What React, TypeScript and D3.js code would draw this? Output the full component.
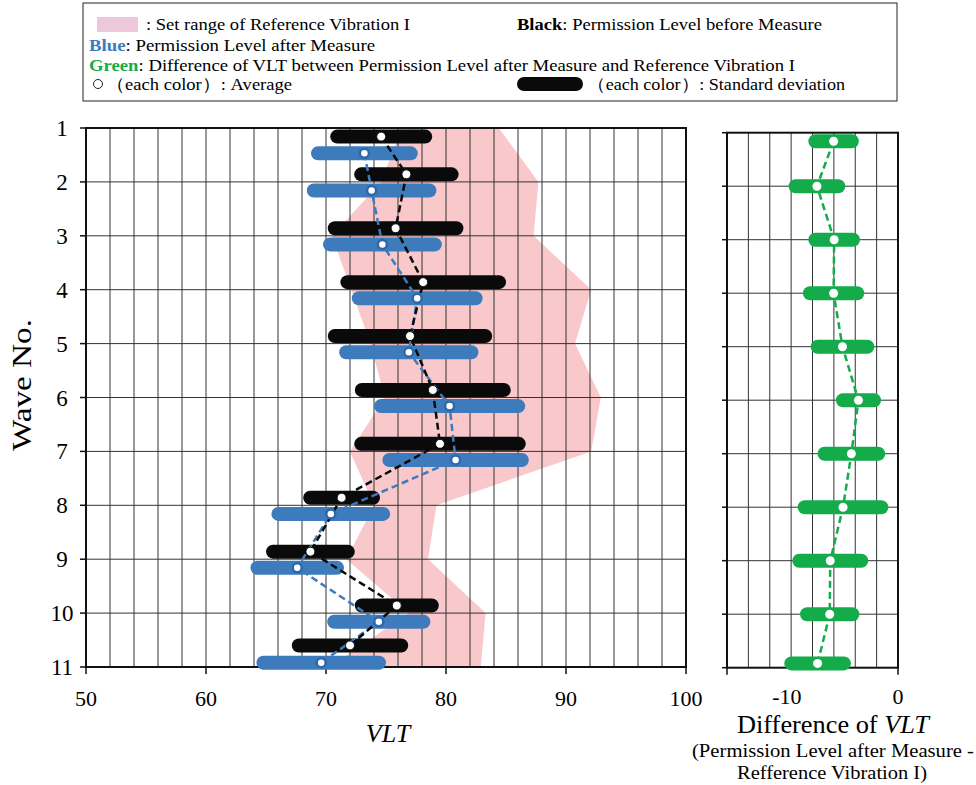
import React from "react";
import * as d3 from "d3";

// wave numbers and where each row sits on the wave axis
const waves = [1, 2, 3, 4, 5, 6, 7, 8, 9, 10, 11];
const blackRow = [1.16, 1.86, 2.86, 3.86, 4.86, 5.86, 6.86, 7.86, 8.86, 9.86, 10.6];
const blueRow = [1.47, 2.16, 3.16, 4.16, 5.16, 6.16, 7.16, 8.16, 9.16, 10.16, 10.92];
const greenRow = [1.16, 2, 3, 4, 5, 6, 7, 8, 9, 10, 10.92];

// permission level before measure (black)
const blackMean = [74.6, 76.7, 75.8, 78.1, 77.0, 78.9, 79.5, 71.3, 68.7, 75.9, 72.0];
const blackSd = [4.25, 4.35, 5.65, 6.9, 6.85, 6.5, 7.15, 3.2, 3.7, 3.5, 4.85];

// permission level after measure (blue)
const blueMean = [73.2, 73.8, 74.7, 77.6, 76.9, 80.3, 80.8, 70.4, 67.6, 74.4, 69.6];
const blueSd = [4.45, 5.4, 4.95, 5.45, 5.8, 6.3, 6.1, 4.95, 3.9, 4.3, 5.4];

// set range of reference vibration I (pink band)
const refLow = [76.3, 74.6, 70.5, 72.1, 73.7, 74.9, 72.0, 74.0, 71.7, 76.9, 70.3];
const refHigh = [84.4, 87.7, 87.3, 92.1, 90.75, 92.9, 92.1, 79.2, 78.5, 83.3, 82.9];

// difference after measure - reference (green)
const greenMean = [-5.8, -7.3, -5.75, -5.8, -5.0, -3.56, -4.2, -4.95, -6.1, -6.15, -7.24];
const greenSd = [2.27, 2.55, 2.33, 2.76, 2.87, 2.03, 3.05, 4.08, 3.42, 2.67, 3.0];

const vltTicks = [50, 60, 70, 80, 90, 100];
const diffTicks = [-10, 0];

const BLACK = "#0a0a0a";
const BLUE = "#3e7bbd";
const BLUE_DARK = "#2c69ab";
const GREEN = "#14ab4b";
const PINK = "#f8c8cb";
const GRID = "#333";
const FONT = "'Liberation Serif', 'Times New Roman', serif";

export default function App() {
  const W = 976, H = 785;

  const x = d3.scaleLinear().domain([50, 100]).range([86, 686]);
  const y = d3.scaleLinear().domain([1, 11]).range([128, 667]);
  const xr = d3.scaleLinear().domain([-15.4, 0]).range([727, 898]);
  const yr = d3.scaleLinear().domain([1, 11]).range([132.7, 667.7]);

  const band = d3.area<number>()
    .x0((d, i) => x(refLow[i]))
    .x1((d, i) => x(refHigh[i]))
    .y(d => y(d))(waves) || "";

  const lineL = (means: number[], rows: number[]) =>
    d3.line<number>().x(d => x(d)).y((d, i) => y(rows[i]))(means) || "";
  const greenLine = d3.line<number>().x(d => xr(d)).y((d, i) => yr(greenRow[i]))(greenMean) || "";

  const barH = 14;
  const bars = (means: number[], sds: number[], rows: number[], color: string, sx: any, sy: any) =>
    means.map((m, i) => (
      <rect key={i} x={sx(m - sds[i])} y={sy(rows[i]) - barH / 2}
        width={sx(m + sds[i]) - sx(m - sds[i])} height={barH} rx={barH / 2} fill={color} />
    ));

  const vGridL = d3.range(52, 100, 2);
  const hGrid = waves.slice(1, -1);
  const [r0, r1] = xr.domain();
  const vGridR = d3.range(1, 8).map(i => r0 + (i * (r1 - r0)) / 8);

  const lg = 16.5;

  return (
    <svg width={W} height={H} style={{ position: "absolute", left: 0, top: 0, background: "#fff" }}
      fontFamily={FONT}>
      {/* legend */}
      <g>
        <rect x={83} y={3} width={814} height={98} fill="#fff" stroke="#222" strokeWidth={1} />
        <rect x={97} y={17} width={41} height={15} fill="#edc8dc" />
        <text x={146} y={30} fontSize={lg} textLength={264} lengthAdjust="spacingAndGlyphs">: Set range of Reference Vibration I</text>
        <text x={517} y={30} fontSize={lg} textLength={305} lengthAdjust="spacingAndGlyphs"><tspan fontWeight="bold">Black</tspan>: Permission Level before Measure</text>
        <text x={89} y={51} fontSize={lg} textLength={286} lengthAdjust="spacingAndGlyphs"><tspan fontWeight="bold" fill={BLUE}>Blue</tspan>: Permission Level after Measure</text>
        <text x={89} y={71} fontSize={lg} textLength={706} lengthAdjust="spacingAndGlyphs"><tspan fontWeight="bold" fill={GREEN}>Green</tspan>: Difference of VLT between Permission Level after Measure and Reference Vibration I</text>
        <circle cx={98} cy={84} r={4.5} fill="#fff" stroke="#222" strokeWidth={1} />
        <text x={106} y={90} fontSize={lg} textLength={186} lengthAdjust="spacingAndGlyphs">（each color）: Average</text>
        <rect x={517} y={77} width={66} height={14} rx={7} fill={BLACK} />
        <text x={587} y={90} fontSize={lg} textLength={258} lengthAdjust="spacingAndGlyphs">（each color）: Standard deviation</text>
      </g>

      {/* left chart */}
      <path d={band} fill={PINK} />
      {vGridL.map(v => (
        <line key={v} x1={x(v)} x2={x(v)} y1={y(1)} y2={y(11)} stroke={GRID} strokeWidth={1} />
      ))}
      {hGrid.map(w => (
        <line key={w} x1={x(50)} x2={x(100)} y1={y(w)} y2={y(w)} stroke={GRID} strokeWidth={1} />
      ))}
      <rect x={x(50)} y={y(1)} width={x(100) - x(50)} height={y(11) - y(1)} fill="none" stroke="#111" strokeWidth={2} />
      {waves.map(w => (
        <g key={w}>
          <line x1={x(50) - 6} x2={x(50)} y1={y(w)} y2={y(w)} stroke="#111" strokeWidth={1.5} />
          <text x={62} y={y(w) + 8} fontSize={23} textAnchor="middle">{w}</text>
        </g>
      ))}
      {vltTicks.map(v => (
        <g key={v}>
          <line x1={x(v)} x2={x(v)} y1={y(11)} y2={y(11) + 7} stroke="#111" strokeWidth={1.5} />
          <text x={x(v)} y={706} fontSize={22} textAnchor="middle">{v}</text>
        </g>
      ))}
      <text x={388} y={742} fontSize={26} fontStyle="italic" textAnchor="middle">VLT</text>
      <text transform={`translate(31,${385}) rotate(-90)`} fontSize={27} textAnchor="middle"
        textLength={132} lengthAdjust="spacingAndGlyphs">Wave No.</text>

      {bars(blackMean, blackSd, blackRow, BLACK, x, y)}
      {bars(blueMean, blueSd, blueRow, BLUE, x, y)}
      <path d={lineL(blueMean, blueRow)} fill="none" stroke={BLUE} strokeWidth={2.5} strokeDasharray="7,4" />
      <path d={lineL(blackMean, blackRow)} fill="none" stroke={BLACK} strokeWidth={2.5} strokeDasharray="7,4" />
      {blackMean.map((m, i) => (
        <circle key={i} cx={x(m)} cy={y(blackRow[i])} r={4.5} fill="#fff" stroke={BLACK} strokeWidth={1} />
      ))}
      {blueMean.map((m, i) => (
        <circle key={i} cx={x(m)} cy={y(blueRow[i])} r={4.5} fill="#fff" stroke={BLUE_DARK} strokeWidth={2.5} />
      ))}

      {/* right chart */}
      {vGridR.map((v, i) => (
        <line key={i} x1={xr(v)} x2={xr(v)} y1={yr(1)} y2={yr(11)} stroke={GRID} strokeWidth={1} />
      ))}
      {hGrid.map(w => (
        <line key={w} x1={xr(r0)} x2={xr(r1)} y1={yr(w)} y2={yr(w)} stroke={GRID} strokeWidth={1} />
      ))}
      <rect x={xr(r0)} y={yr(1)} width={xr(r1) - xr(r0)} height={yr(11) - yr(1)} fill="none" stroke="#111" strokeWidth={2} />
      {waves.map(w => (
        <line key={w} x1={xr(r0) - 5} x2={xr(r0)} y1={yr(w)} y2={yr(w)} stroke="#111" strokeWidth={1.5} />
      ))}
      {[r0, r1].map((t, i) => (
        <line key={i} x1={xr(t)} x2={xr(t)} y1={yr(11)} y2={yr(11) + 7} stroke="#111" strokeWidth={1.5} />
      ))}
      {diffTicks.map(t => (
        <text key={t} x={xr(t)} y={704} fontSize={22} textAnchor="middle">{t}</text>
      ))}
      {bars(greenMean, greenSd, greenRow, GREEN, xr, yr)}
      <path d={greenLine} fill="none" stroke={GREEN} strokeWidth={2.5} strokeDasharray="7,4" />
      {greenMean.map((m, i) => (
        <circle key={i} cx={xr(m)} cy={yr(greenRow[i])} r={4.5} fill="#fff" />
      ))}
      <text x={833} y={733} fontSize={25} textAnchor="middle" textLength={192} lengthAdjust="spacingAndGlyphs">Difference of <tspan fontStyle="italic">VLT</tspan></text>
      <text x={833} y={757} fontSize={18} textAnchor="middle" textLength={282} lengthAdjust="spacingAndGlyphs">(Permission Level after Measure -</text>
      <text x={832} y={779} fontSize={18} textAnchor="middle" textLength={190} lengthAdjust="spacingAndGlyphs">Refference Vibration I)</text>
    </svg>
  );
}
